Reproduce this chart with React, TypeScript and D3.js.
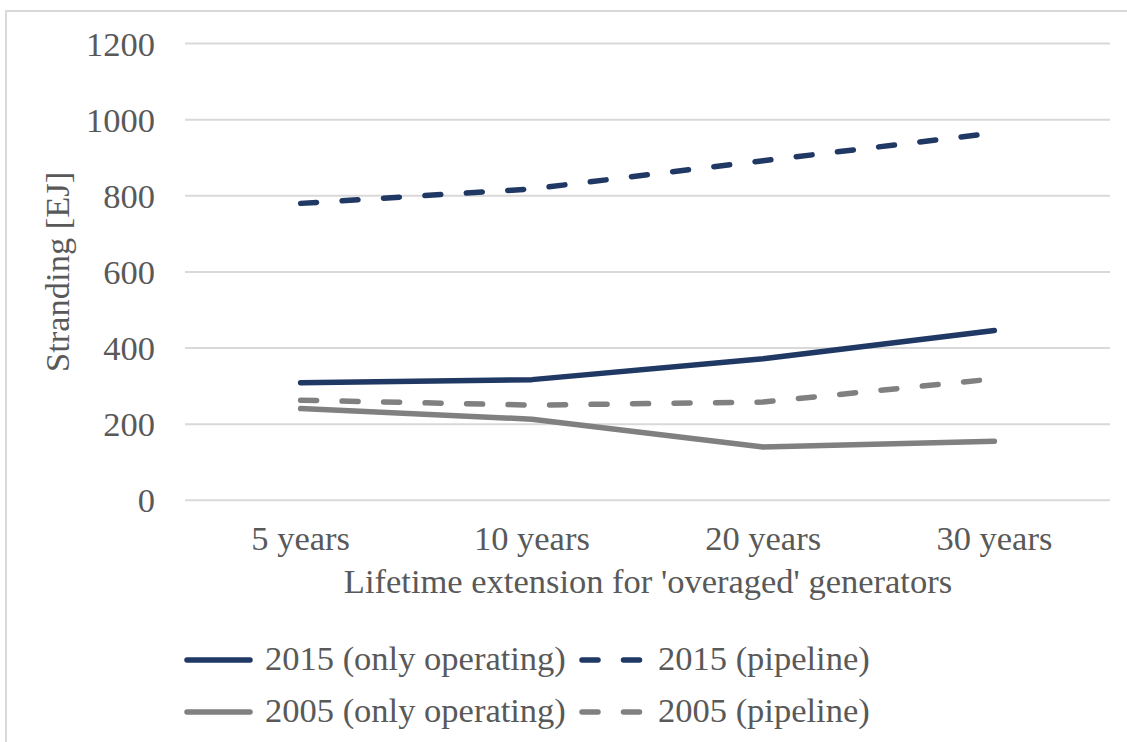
import React from "react";
import * as d3 from "d3";

const categories = ["5 years", "10 years", "20 years", "30 years"];
const op2015 = [309, 317, 372, 446];
const pipe2015 = [780, 818, 892, 965];
const op2005 = [241, 213, 140, 155];
const pipe2005 = [263, 250, 258, 319];
const yTicks = [0, 200, 400, 600, 800, 1000, 1200];

const NAVY = "#203864";
const GRAY = "#808080";
const TEXT = "#595959";
const GRID = "#d9d9d9";
const FONT = "'Liberation Serif', 'Times New Roman', serif";

const series = [
  { name: "2015 (only operating)", values: op2015, color: NAVY, dashed: false },
  { name: "2015 (pipeline)", values: pipe2015, color: NAVY, dashed: true },
  { name: "2005 (only operating)", values: op2005, color: GRAY, dashed: false },
  { name: "2005 (pipeline)", values: pipe2005, color: GRAY, dashed: true },
];

export default function App() {
  const W = 1127, H = 742;
  const x = d3.scaleBand<string>().domain(categories).range([185, 1110]);
  const y = d3.scaleLinear().domain([0, 1200]).range([500.3, 43.5]);
  const cx = (c: string) => (x(c) as number) + x.bandwidth() / 2;
  const line = d3
    .line<number>()
    .x((_, i) => cx(categories[i]))
    .y((v) => y(v));

  const legendPos = [
    { x: 187, y: 660 },
    { x: 582, y: 660 },
    { x: 187, y: 712 },
    { x: 582, y: 712 },
  ];

  return (
    <svg
      width={W}
      height={H}
      style={{ position: "absolute", left: 0, top: 0, background: "#fff" }}
      fontFamily={FONT}
    >
      <rect x={6} y={11} width={1140} height={760} fill="#fff" stroke={GRID} strokeWidth={2} />
      {yTicks.map((t) => (
        <g key={t}>
          <line x1={185} x2={1110} y1={y(t)} y2={y(t)} stroke={GRID} strokeWidth={2} />
          <text
            x={155}
            y={y(t)}
            textAnchor="end"
            dominantBaseline="central"
            fontSize={34.5}
            fill={TEXT}
          >
            {t}
          </text>
        </g>
      ))}
      {categories.map((c) => (
        <text key={c} x={cx(c)} y={550} textAnchor="middle" fontSize={34.5} fill={TEXT}>
          {c}
        </text>
      ))}
      <text x={648} y={593} textAnchor="middle" fontSize={34.5} fill={TEXT}>
        Lifetime extension for 'overaged' generators
      </text>
      <text
        transform={`translate(69, ${(y(0) + y(1200)) / 2}) rotate(-90)`}
        textAnchor="middle"
        fontSize={34.5}
        fill={TEXT}
      >
        Stranding [EJ]
      </text>
      {series.map((s) => (
        <path
          key={s.name}
          d={line(s.values) || ""}
          fill="none"
          stroke={s.color}
          strokeWidth={5.5}
          strokeLinecap="round"
          strokeLinejoin="round"
          strokeDasharray={s.dashed ? "16,25.5" : undefined}
        />
      ))}
      {series.map((s, i) => {
        const p = legendPos[i];
        return (
          <g key={s.name}>
            <line
              x1={p.x}
              x2={p.x + 63}
              y1={p.y}
              y2={p.y}
              stroke={s.color}
              strokeWidth={5.5}
              strokeLinecap="round"
              strokeDasharray={s.dashed ? "16,25.5" : undefined}
            />
            <text x={p.x + (s.dashed ? 76 : 78)} y={p.y + 10} fontSize={34.5} fill={TEXT}>
              {s.name}
            </text>
          </g>
        );
      })}
    </svg>
  );
}
